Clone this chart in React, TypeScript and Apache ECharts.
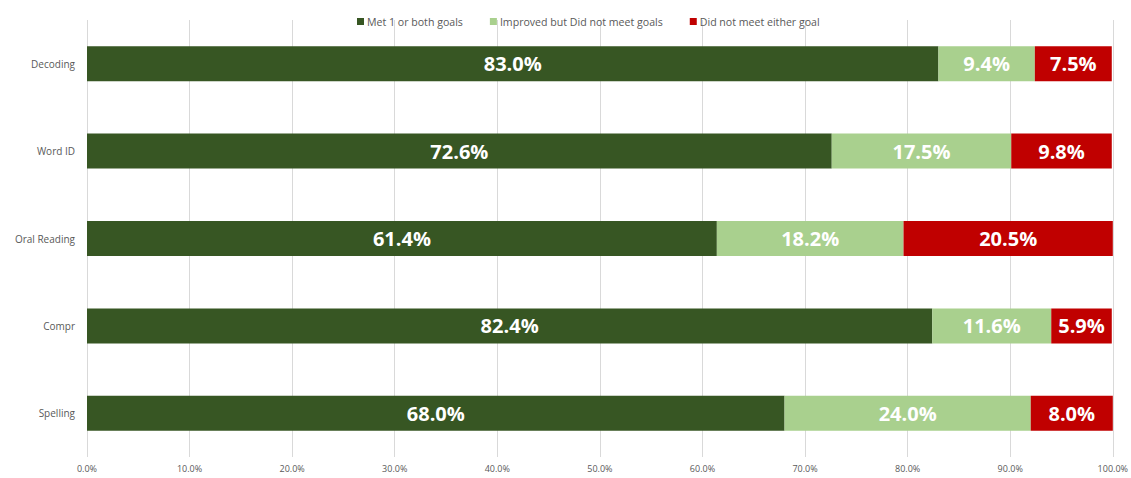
import React, { useEffect, useRef } from "react";
import * as echarts from "echarts";

const categories = ["Decoding", "Word ID", "Oral Reading", "Compr", "Spelling"];
const metGoals = [83.0, 72.6, 61.4, 82.4, 68.0];
const improved = [9.4, 17.5, 18.2, 11.6, 24.0];
const notMet = [7.5, 9.8, 20.5, 5.9, 8.0];
const seriesNames = ["Met 1 or both goals", "Improved but Did not meet goals", "Did not meet either goal"];
const xTicks = [0, 10, 20, 30, 40, 50, 60, 70, 80, 90, 100];

const colors = ["#375623", "#a9d08e", "#c00000"];

export default function App() {
  const ref = useRef<HTMLDivElement>(null);
  useEffect(() => {
    if (!ref.current) return;
    const chart = echarts.init(ref.current, null, { renderer: "svg" });
    const font = "'Open Sans', 'DejaVu Sans', sans-serif";
    const mk = (name: string, data: number[], color: string) => ({
      name,
      type: "bar",
      stack: "total",
      data,
      barWidth: 35,
      itemStyle: { color },
      label: {
        show: true,
        position: "inside",
        color: "#ffffff",
        fontFamily: font,
        fontWeight: "bold",
        fontSize: 20,
        formatter: (p: any) => p.value.toFixed(1) + "%",
      },
    });
    chart.setOption({
      animation: false,
      textStyle: { fontFamily: font },
      legend: {
        top: 11,
        left: 352,
        padding: 5,
        itemWidth: 7,
        itemHeight: 7,
        itemGap: 27,
        icon: "rect",
        textStyle: { fontSize: 10.6, color: "#595959", fontFamily: font, padding: [0, 0, 0, -2] },
        data: seriesNames,
      },
      grid: { left: 87, right: 16, top: 20, bottom: 21, containLabel: false },
      xAxis: {
        type: "value",
        min: xTicks[0],
        max: xTicks[xTicks.length - 1],
        interval: 10,
        axisLine: { show: false },
        axisTick: { show: false },
        splitLine: { show: true, lineStyle: { color: "#d9d9d9", width: 1 } },
        axisLabel: {
          fontSize: 9,
          color: "#595959",
          margin: 7,
          fontFamily: font,
          formatter: (v: number) => v.toFixed(1) + "%",
        },
      },
      yAxis: {
        type: "category",
        data: categories,
        inverse: true,
        axisLine: { show: false },
        axisTick: { show: false },
        axisLabel: { fontSize: 10, color: "#595959", margin: 12, fontFamily: font },
      },
      series: [
        mk(seriesNames[0], metGoals, colors[0]),
        mk(seriesNames[1], improved, colors[1]),
        mk(seriesNames[2], notMet, colors[2]),
      ],
    });
    return () => chart.dispose();
  }, []);
  return (
    <div
      ref={ref}
      style={{ position: "fixed", left: 0, top: 0, width: 1131, height: 478, background: "#ffffff" }}
    />
  );
}
